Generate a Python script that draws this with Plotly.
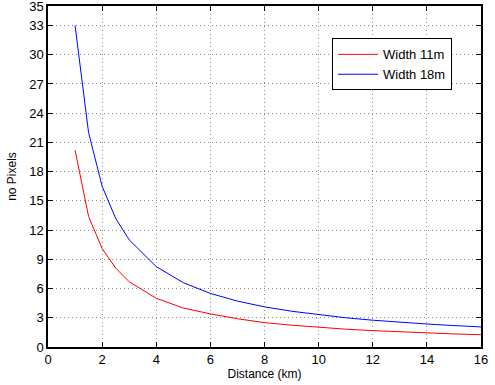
import plotly.graph_objects as go

distance_km = [1, 1.5, 2, 2.5, 3, 4, 5, 6, 7, 8, 9, 10, 11, 12, 13, 14, 15, 16]
pixels_11m = [20.2, 13.4, 10.1, 8.1, 6.7, 5.0, 4.0, 3.4, 2.9, 2.5, 2.24, 2.0, 1.83, 1.68, 1.55, 1.44, 1.34, 1.26]
pixels_18m = [33.0, 22.0, 16.5, 13.2, 11.0, 8.25, 6.6, 5.5, 4.71, 4.12, 3.67, 3.3, 3.0, 2.75, 2.54, 2.36, 2.2, 2.06]
x_ticks = [0, 2, 4, 6, 8, 10, 12, 14, 16]
y_ticks = [0, 3, 6, 9, 12, 15, 18, 21, 24, 27, 30, 33, 35]

fig = go.Figure()
fig.add_trace(go.Scatter(x=distance_km, y=pixels_11m, mode="lines", name="Width 11m",
                         line=dict(color="#ff0000", width=1)))
fig.add_trace(go.Scatter(x=distance_km, y=pixels_18m, mode="lines", name="Width 18m",
                         line=dict(color="#0000ff", width=1)))

axis_common = dict(showline=True, linecolor="black", linewidth=1.5, mirror="ticks",
                   ticks="inside", ticklen=5, tickcolor="black", tickwidth=1,
                   showgrid=True, gridcolor="#8c8c8c", griddash="1px,3px", gridwidth=1,
                   zeroline=False, automargin=False, ticklabeloverflow="allow",
                   tickfont=dict(size=13, color="black"))

fig.update_layout(
    width=495, height=385,
    margin=dict(l=48, r=14, t=6, b=38),
    paper_bgcolor="white", plot_bgcolor="white",
    font=dict(family="Liberation Sans, Arial, sans-serif", size=13, color="black"),
    xaxis=dict(range=[0, 16], tickvals=x_ticks,
               title=dict(text="Distance (km)", standoff=1, font=dict(size=12)), **axis_common),
    yaxis=dict(range=[0, 35], tickvals=y_ticks,
               title=dict(text="no Pixels", standoff=10, font=dict(size=12)), **axis_common),
    legend=dict(x=0.656, y=0.905, xanchor="left", yanchor="top",
                bgcolor="white", bordercolor="black", borderwidth=1,
                font=dict(size=13), tracegroupgap=0, itemwidth=40),
    showlegend=True,
)

fig.write_html("out.html", config={"displayModeBar": False},
               post_script="document.body.style.margin='0';")
